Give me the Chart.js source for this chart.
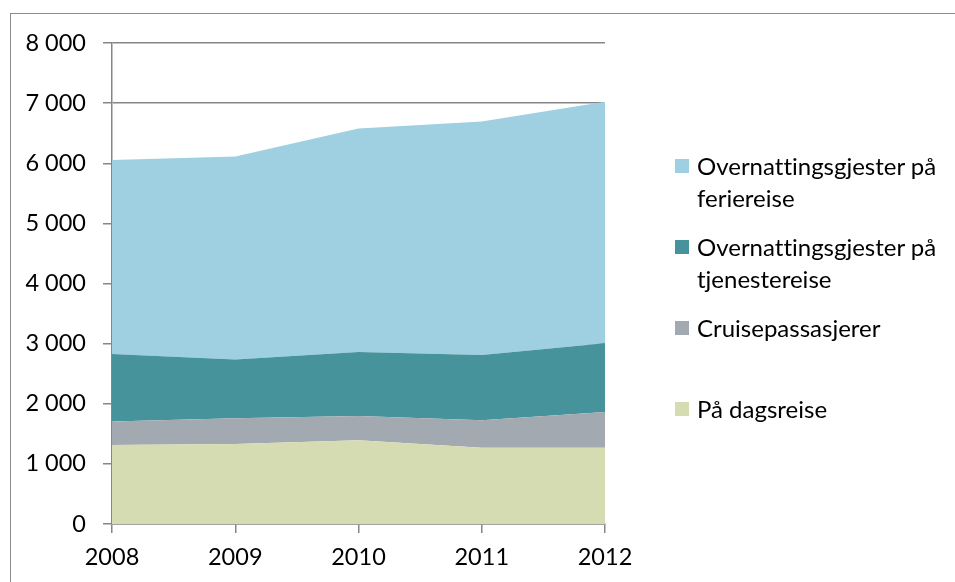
<!DOCTYPE html>
<html>
<head>
<meta charset="utf-8">
<script src="https://cdn.jsdelivr.net/npm/chart.js@4/dist/chart.umd.min.js"></script>
<style>
    html, body { margin: 0; padding: 0; background: #fff; }
    #wrap { position: relative; width: 955px; height: 582px; overflow: hidden; }
    #frame {
        position: absolute; left: 10px; top: 13px; width: 2000px; height: 2000px;
        border-left: 1.5px solid #8c8c8c; border-top: 1.5px solid #8c8c8c;
    }
    #chart { position: absolute; left: 0; top: 0; }
    #legend {
        position: absolute; left: 675px; top: 150px; width: 275px;
        font-family: 'Lato', sans-serif; font-size: 24px; color: #000;
        font-variant-ligatures: none;
    }
    .item { position: relative; padding-left: 22px; line-height: 32px; }
    .box { position: absolute; left: 0; top: 9px; width: 14px; height: 14px; }
</style>
</head>
<body>
<div id="wrap">
    <div id="frame"></div>
    <canvas id="chart" width="955" height="582"></canvas>
    <div id="legend"></div>
</div>
<script>
// Data (thousands)
const years = ['2008', '2009', '2010', '2011', '2012'];
const dagsreise = [1314, 1331, 1392, 1270, 1270];
const cruise = [389, 427, 405, 455, 594];
const tjenestereise = [1126, 976, 1065, 1087, 1142];
const feriereise = [3227, 3378, 3716, 3882, 4016];
const yTicks = [0, 1000, 2000, 3000, 4000, 5000, 6000, 7000, 8000];

const labels = {
    ferie: 'Overnattingsgjester på feriereise',
    tjeneste: 'Overnattingsgjester på tjenestereise',
    cruise: 'Cruisepassasjerer',
    dags: 'På dagsreise'
};

const FONT = 'Lato';
const AXIS_GREY = '#868686';

function fmt(v) {
    return String(v).replace(/\B(?=(\d{3})+(?!\d))/g, ' ');
}

function area(label, data, color, fill) {
    return {
        label: label,
        data: data,
        backgroundColor: color,
        borderColor: color,
        borderWidth: 0,
        pointRadius: 0,
        tension: 0,
        fill: fill
    };
}

const datasets = [
    area(labels.dags, dagsreise, '#d6dcb2', 'origin'),
    area(labels.cruise, cruise, '#a3a9b0', '-1'),
    area(labels.tjeneste, tjenestereise, '#46939c', '-1'),
    area(labels.ferie, feriereise, '#9fd0e1', '-1')
];

const ctx = document.getElementById('chart').getContext('2d');
new Chart(ctx, {
    type: 'line',
    data: { labels: years, datasets: datasets },
    options: {
        responsive: false,
        animation: false,
        layout: { padding: { left: 0, top: 43, right: 350, bottom: 0 } },
        plugins: { legend: { display: false }, tooltip: { enabled: false } },
        scales: {
            x: {
                offset: false,
                grid: { display: true, drawOnChartArea: false, drawTicks: true, tickLength: 9, color: AXIS_GREY, lineWidth: 1.5 },
                border: { display: true, color: AXIS_GREY, width: 1.5 },
                ticks: { color: '#000', padding: 10, maxRotation: 0, font: { family: FONT, size: 23.5 } },
                afterFit: s => { s.height = 58; }
            },
            y: {
                stacked: true,
                min: 0,
                max: 8000,
                afterBuildTicks: s => { s.ticks = yTicks.map(v => ({ value: v })); },
                grid: { color: AXIS_GREY, lineWidth: 1.5, tickLength: 9 },
                border: { display: true, color: AXIS_GREY, width: 1.5 },
                ticks: { color: '#000', padding: 17, callback: v => fmt(v), font: { family: FONT, size: 23.5 } },
                afterFit: s => { s.width = 112; }
            }
        }
    }
});

// Legend, top of the stack first
const legend = document.getElementById('legend');
const gaps = [0, 17, 17, 49];
datasets.slice().reverse().forEach((ds, i) => {
    const el = document.createElement('div');
    el.className = 'item';
    el.style.marginTop = gaps[i] + 'px';
    el.innerHTML = '<span class="box" style="background:' + ds.backgroundColor + '"></span>' + ds.label;
    legend.appendChild(el);
});
</script>
</body>
</html>
